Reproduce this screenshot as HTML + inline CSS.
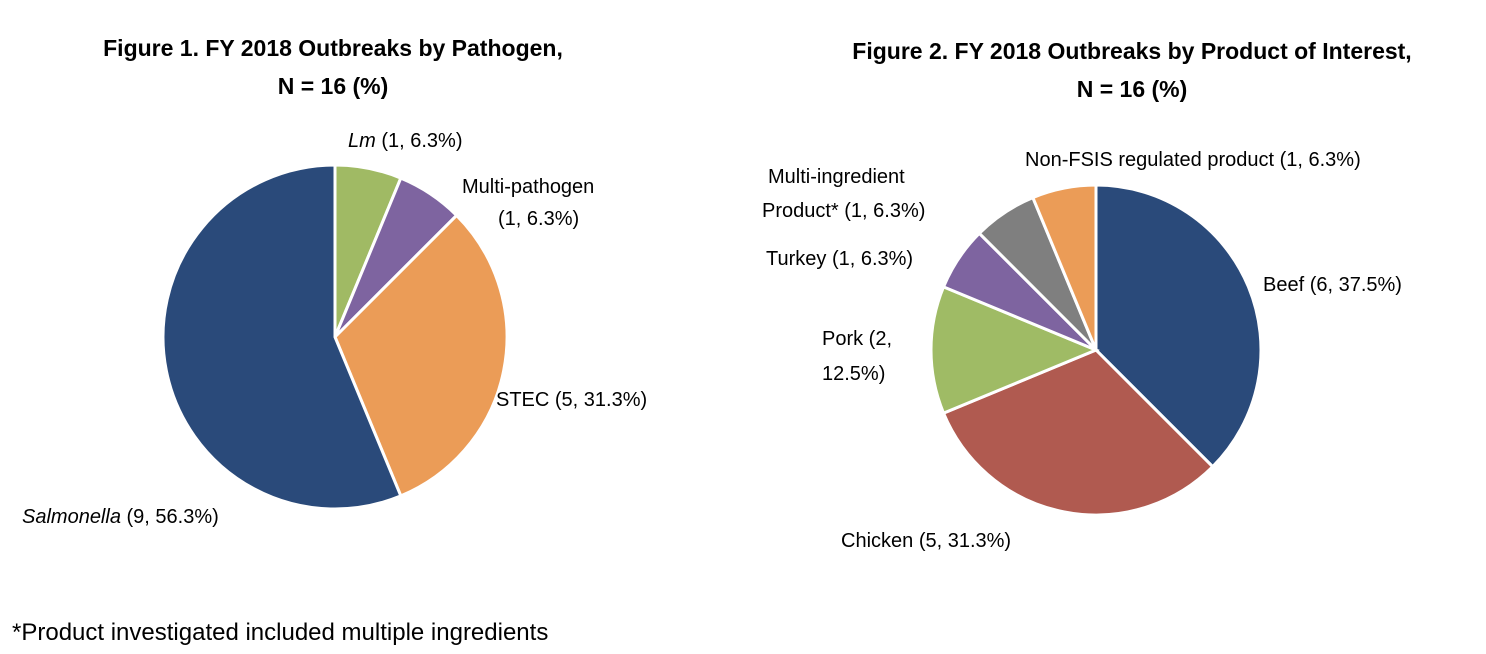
<!DOCTYPE html>
<html><head><meta charset="utf-8"><style>
html,body{margin:0;padding:0;background:#fff;width:1486px;height:654px;overflow:hidden;font-family:"Liberation Sans",sans-serif}
svg text{font-family:"Liberation Sans",sans-serif;fill:#000}
</style></head><body>
<svg width="1486" height="654">
<g>
<text x="333" y="56" text-anchor="middle" font-size="23" font-weight="bold">Figure 1. FY 2018 Outbreaks by Pathogen,</text>
<text x="333" y="94" text-anchor="middle" font-size="23" font-weight="bold">N = 16 (%)</text>
<g id="pie1"></g>
<text x="348" y="147" font-size="20"><tspan font-style="italic">Lm</tspan> (1, 6.3%)</text>
<text x="462" y="193" font-size="20">Multi-pathogen</text>
<text x="498" y="225" font-size="20">(1, 6.3%)</text>
<text x="496" y="406" font-size="20">STEC (5, 31.3%)</text>
<text x="22" y="523" font-size="20"><tspan font-style="italic">Salmonella</tspan> (9, 56.3%)</text>
</g>
<g>
<text x="1132" y="59" text-anchor="middle" font-size="23" font-weight="bold">Figure 2. FY 2018 Outbreaks by Product of Interest,</text>
<text x="1132" y="97" text-anchor="middle" font-size="23" font-weight="bold">N = 16 (%)</text>
<g id="pie2"></g>
<text x="1025" y="166" font-size="20">Non-FSIS regulated product (1, 6.3%)</text>
<text x="768" y="183" font-size="20">Multi-ingredient</text>
<text x="762" y="217" font-size="20">Product* (1, 6.3%)</text>
<text x="766" y="265" font-size="20">Turkey (1, 6.3%)</text>
<text x="1263" y="291" font-size="20">Beef (6, 37.5%)</text>
<text x="822" y="345" font-size="20">Pork (2,</text>
<text x="822" y="380" font-size="20">12.5%)</text>
<text x="841" y="547" font-size="20">Chicken (5, 31.3%)</text>
</g>
<text x="12" y="640" font-size="24">*Product investigated included multiple ingredients</text>
</svg>
<script>
const pathogenCats=["Lm","Multi-pathogen","STEC","Salmonella"];
const pathogenVals=[1,1,5,9];
const productCats=["Beef","Chicken","Pork","Turkey","Multi-ingredient","Non-FSIS"];
const productVals=[6,5,2,1,1,1];
function drawPie(gid,cats,vals,colors,cx,cy,r){
  const g=document.getElementById(gid);const tot=vals.reduce((a,b)=>a+b,0);let a0=0;
  vals.forEach((v,i)=>{
    const a1=a0+v/tot*2*Math.PI;
    const x0=cx+r*Math.sin(a0),y0=cy-r*Math.cos(a0),x1=cx+r*Math.sin(a1),y1=cy-r*Math.cos(a1);
    const p=document.createElementNS("http://www.w3.org/2000/svg","path");
    p.setAttribute("d",`M${cx},${cy}L${x0},${y0}A${r},${r} 0 ${a1-a0>Math.PI?1:0} 1 ${x1},${y1}Z`);
    p.setAttribute("fill",colors[i]);p.setAttribute("stroke","#fff");p.setAttribute("stroke-width","3");
    
    
    g.appendChild(p);a0=a1;});
}
drawPie("pie1",pathogenCats,pathogenVals,["#A0BA64","#7E64A0","#EB9C57","#2A4A7A"],335,337,172);
drawPie("pie2",productCats,productVals,["#2A4A7A","#B05A50","#9FBB65","#7E64A0","#7F7F7F","#EB9C57"],1096,350,165);
</script>
</body></html>
